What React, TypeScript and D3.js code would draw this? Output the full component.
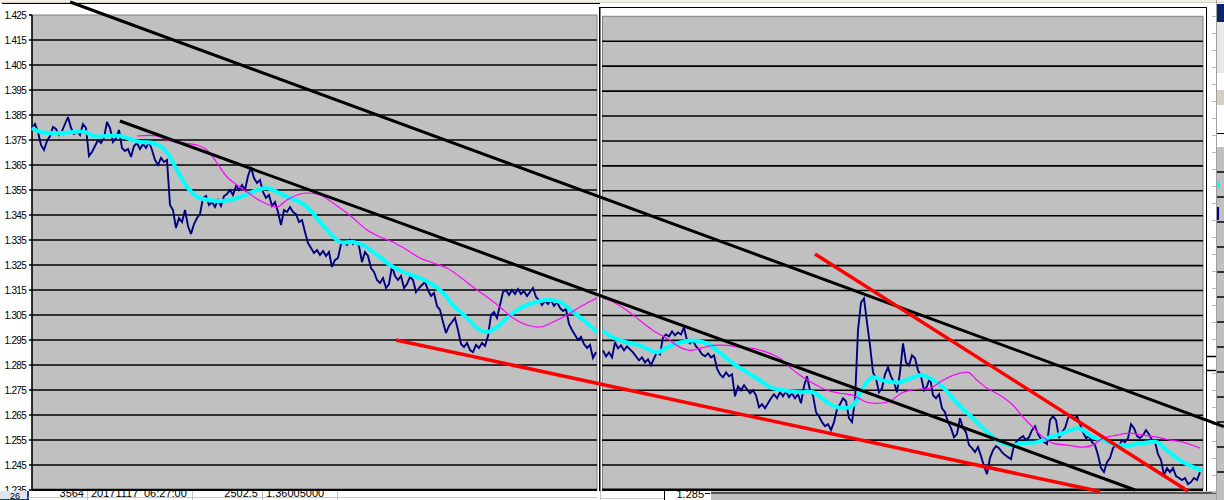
import React from 'react';
import * as d3 from 'd3';

// Y axis ticks (price)
const yTicks = [1.425, 1.415, 1.405, 1.395, 1.385, 1.375, 1.365, 1.355, 1.345, 1.335, 1.325, 1.315, 1.305, 1.295, 1.285, 1.275, 1.265, 1.255, 1.245, 1.235];
const tickLabels = yTicks.map((v) => v.toFixed(3));

// Left chart: price (bar index 0..188)
const leftPrice = [
  1.3798,1.3814,1.3782,1.373,1.371,1.3746,1.3766,1.3802,1.3794,1.377,
  1.3786,1.3814,1.3842,1.3798,1.3774,1.3786,1.377,1.3814,1.3798,1.3686,
  1.3702,1.3726,1.375,1.3738,1.3758,1.3822,1.3798,1.3742,1.3758,1.379,
  1.3718,1.3706,1.3714,1.3682,1.3726,1.3738,1.3714,1.3734,1.3718,1.3742,
  1.371,1.367,1.365,1.3678,1.3662,1.367,1.349,1.347,1.3398,1.3438,
  1.3422,1.347,1.3406,1.3374,1.3414,1.3438,1.3454,1.3518,1.3526,1.349,
  1.3502,1.3482,1.351,1.3486,1.3526,1.3534,1.355,1.353,1.3566,1.355,
  1.357,1.355,1.3606,1.3642,1.3598,1.3578,1.359,1.3542,1.3518,1.353,
  1.3486,1.3502,1.3462,1.341,1.347,1.3462,1.3482,1.3462,1.3454,1.3422,
  1.343,1.3382,1.3338,1.3318,1.3298,1.331,1.329,1.3306,1.3286,1.3302,
  1.3242,1.327,1.3278,1.3334,1.3342,1.333,1.335,1.3334,1.3346,1.3326,
  1.3262,1.3302,1.3286,1.3238,1.3222,1.319,1.3178,1.3198,1.3158,1.3174,
  1.3246,1.3206,1.319,1.3206,1.3158,1.3174,1.3202,1.319,1.3142,1.3158,
  1.317,1.3182,1.315,1.3126,1.3138,1.3086,1.307,1.3022,1.2978,1.3006,
  1.3022,1.3038,1.299,1.2934,1.2922,1.2938,1.291,1.2902,1.293,1.2918,
  1.2938,1.2926,1.2966,1.305,1.3062,1.3038,1.309,1.3142,1.315,1.313,
  1.315,1.3134,1.3154,1.3134,1.3146,1.3126,1.3142,1.3158,1.3122,1.311,
  1.309,1.3106,1.3094,1.311,1.3086,1.3102,1.3078,1.3066,1.3074,1.3014,
  1.299,1.297,1.295,1.2962,1.2934,1.2918,1.293,1.2878,1.2902,
];

// Right chart: price (bar index 0..199)
const rightPrice = [
  1.291,1.2886,1.2902,1.2882,1.2942,1.2918,1.293,1.291,1.2926,1.2914,
  1.2902,1.2886,1.287,1.2882,1.2862,1.2874,1.285,1.2878,1.2902,1.2894,
  1.2962,1.2974,1.2966,1.2986,1.297,1.2982,1.2974,1.3002,1.295,1.2938,
  1.295,1.2926,1.2914,1.2894,1.2886,1.2898,1.2882,1.289,1.2838,1.2814,
  1.2802,1.2822,1.2806,1.2814,1.2726,1.2766,1.275,1.277,1.2754,1.2738,
  1.275,1.273,1.2682,1.2694,1.2678,1.2698,1.2718,1.2734,1.2718,1.2742,
  1.2726,1.2746,1.2722,1.2738,1.2718,1.2734,1.2698,1.2766,1.2806,1.275,
  1.273,1.2662,1.2646,1.2622,1.2606,1.2614,1.259,1.2622,1.2674,1.2694,
  1.2718,1.2706,1.2638,1.2622,1.271,1.299,1.3102,1.3118,1.3022,1.293,
  1.2822,1.2798,1.2742,1.2758,1.2814,1.2842,1.2806,1.2782,1.2742,1.2822,
  1.2938,1.2862,1.285,1.289,1.2878,1.283,1.2806,1.275,1.2766,1.2802,
  1.273,1.2718,1.2734,1.2678,1.2662,1.2622,1.2598,1.2562,1.2574,1.2638,
  1.2598,1.2582,1.253,1.2518,1.2502,1.2522,1.2486,1.2446,1.2414,1.2478,
  1.251,1.2526,1.2518,1.2502,1.249,1.2482,1.2474,1.253,1.2546,1.2558,
  1.2566,1.255,1.2562,1.259,1.2606,1.2574,1.2554,1.2542,1.2534,1.263,
  1.2646,1.263,1.2558,1.2582,1.2598,1.2638,1.265,1.2634,1.2646,1.2614,
  1.2582,1.2558,1.2566,1.2542,1.253,1.249,1.2438,1.2422,1.2462,1.2478,
  1.2518,1.2534,1.2526,1.255,1.2542,1.2558,1.2614,1.2598,1.2566,1.2558,
  1.257,1.259,1.2574,1.255,1.2542,1.2494,1.247,1.241,1.2438,1.2422,
  1.2438,1.2406,1.2398,1.239,1.2398,1.2374,1.2382,1.2398,1.239,1.2422,
];

// Fast moving average (cyan) [bar index, price]
const leftFast: [number, number][] = [
  [0,1.3798],[2.7,1.3782],[6,1.3778],[10.3,1.3778],[13.7,1.3782],[17.7,1.3782],[20.3,1.3766],[25,1.3766],
  [29.3,1.3766],[32.7,1.3754],[36,1.3742],[40.3,1.3738],[43.7,1.3718],[46,1.3682],[48.3,1.363],[51.7,1.3562],
  [55,1.3522],[57,1.3514],[61.7,1.3506],[66,1.351],[70.3,1.3526],[75,1.355],[78.3,1.3558],[81.7,1.3542],
  [86,1.3518],[89.3,1.3502],[92.7,1.347],[96,1.3422],[99.3,1.3378],[102.7,1.3342],[107,1.3342],[110.3,1.333],
  [115,1.329],[119.3,1.325],[123.7,1.3222],[129.3,1.3198],[133.7,1.317],[137,1.3138],[140.3,1.309],[145,1.3038],
  [149.3,1.299],[151.7,1.2982],[155,1.3002],[158.3,1.3038],[162.7,1.3078],[167,1.3098],[171.7,1.311],[176,1.3102],
  [180.3,1.3062],[185,1.3018],[188.3,1.2982],
];
const rightFast: [number, number][] = [
  [0,1.299],[3.3,1.2962],[8,1.2942],[12.3,1.293],[18,1.2902],[21.3,1.2922],[25.7,1.2942],[30,1.295],
  [34.7,1.2938],[38,1.291],[43.3,1.2858],[48,1.2822],[52.3,1.279],[55.7,1.2762],[60,1.275],[65.7,1.2742],
  [70,1.2742],[74.7,1.2702],[78,1.2682],[82.3,1.2682],[84,1.2698],[86.7,1.2762],[89.7,1.2802],[93.3,1.279],
  [96.7,1.2782],[99,1.2782],[102.3,1.2798],[105.7,1.281],[109,1.2798],[113.3,1.2762],[118,1.2698],[122.3,1.265],
  [126.7,1.2598],[131.3,1.255],[135.7,1.253],[140,1.2538],[144.7,1.2542],[149,1.2562],[153.3,1.2578],[158,1.2598],
  [160,1.259],[163.3,1.2562],[166.7,1.255],[171.3,1.253],[175.7,1.253],[180,1.2538],[184.7,1.2542],[186.7,1.2522],
  [190,1.249],[193.3,1.2462],[196.7,1.2442],[199.7,1.243],
];

// Slow moving average (magenta) [bar index, price]
const leftSlow: [number, number][] = [
  [35,1.3766],[41.7,1.3766],[46,1.3746],[50.3,1.3738],[55,1.373],[58.3,1.371],[61.7,1.3658],[65,1.3602],
  [68.3,1.357],[71.7,1.3542],[75,1.3514],[78.3,1.3494],[81.7,1.3482],[85,1.351],[88.3,1.353],[91.7,1.3538],
  [96,1.353],[102.7,1.3478],[107,1.3438],[111.7,1.339],[116,1.3362],[120.3,1.3342],[125,1.331],[129.3,1.3278],
  [133.7,1.3258],[138.3,1.3238],[142.7,1.3202],[147,1.3162],[151.7,1.3122],[156,1.3082],[160.3,1.3038],[165,1.301],
  [169.3,1.3002],[173.7,1.3022],[178.3,1.305],[182.7,1.3082],[187,1.311],[188.3,1.3118],
];
const rightSlow: [number, number][] = [
  [0,1.3118],[2.3,1.311],[8,1.307],[12.3,1.303],[16.7,1.299],[21.3,1.2958],[25.7,1.2922],[29,1.291],
  [32.3,1.2918],[36.7,1.293],[41.3,1.293],[45.7,1.2922],[50,1.2918],[54.7,1.2902],[59,1.2878],[62.3,1.2842],
  [65.7,1.281],[70,1.2778],[74.7,1.275],[79,1.2738],[83.3,1.273],[88,1.2702],[92.3,1.2698],[95.7,1.2706],
  [100,1.2742],[104.7,1.2754],[109,1.2758],[113.3,1.279],[116.7,1.281],[121.7,1.2822],[124.7,1.279],[128,1.2758],
  [132.3,1.273],[136.7,1.269],[140,1.2642],[143.3,1.2602],[146.7,1.2562],[150,1.2538],[154.7,1.253],[160,1.2522],
  [163.3,1.253],[166.7,1.2558],[171.3,1.257],[175.7,1.2578],[180,1.257],[184.7,1.2562],[189,1.255],[193.3,1.2542],
  [199,1.2518],
];

// Hand-drawn trend lines, in left-chart bar index / price units
const blackTrends: [number, number][][] = [
  [[12.7, 1.4302], [397.3, 1.2604]],
  [[29.3, 1.3826], [367.7, 1.235]],
];
const redTrends: [number, number][][] = [
  [[121.3, 1.295], [356, 1.2344]],
  [[261, 1.3294], [385.3, 1.2346]],
];

// Spreadsheet cells peeking below the charts
const rowCells = ['3564', '20171117', '06:27:00', '2502.5', '1.36005000'];

const FONT = 'Arial, "Liberation Sans", sans-serif';

export default function App() {
  const W = 1224;
  const H = 500;

  const xL = d3.scaleLinear().domain([0, 188]).range([32, 596]);
  const yL = d3.scaleLinear().domain([1.235, 1.425]).range([490, 15]);
  const xR = d3.scaleLinear().domain([0, 199]).range([603, 1200]);
  const yR = d3.scaleLinear().domain([1.235, 1.425]).range([490, 16.3]);

  const priceLine = (xs: any, ys: any) =>
    d3.line<number>().x((_, i) => xs(i)).y((d) => ys(d));
  const maLine = (xs: any, ys: any) =>
    d3.line<[number, number]>().x((d) => xs(d[0])).y((d) => ys(d[1])).curve(d3.curveCatmullRom.alpha(0.5));
  const segLine = d3.line<[number, number]>().x((d) => xL(d[0])).y((d) => yL(d[1]));

  const sheetRows = d3.range(16, 500, 17);
  const stripGrid = d3.range(172, 490, 25);

  return (
    <svg
      width={W}
      height={H}
      style={{ position: 'absolute', left: 0, top: 0, display: 'block', background: '#fff' }}
      xmlns="http://www.w3.org/2000/svg"
    >
      <defs>
        <clipPath id="clipL"><rect x={0} y={3} width={600} height={488} /></clipPath>
        <clipPath id="clipR"><rect x={599} y={7} width={609} height={484} /></clipPath>
      </defs>

      {/* page background / sheet */}
      <rect x={0} y={0} width={W} height={H} fill="#ffffff" />
      <rect x={0} y={0} width={W} height={3} fill="#f1efe8" />
      <line x1={0} x2={W} y1={2.5} y2={2.5} stroke="#d4d0c8" />

      {/* bottom spreadsheet row */}
      <g fontFamily={FONT} fontSize={11} fill="#000">
        <rect x={0} y={491} width={28} height={9} fill="#dfe3ee" />
        <line x1={28} x2={28} y1={491} y2={500} stroke="#1c3c8c" strokeWidth={2} />
        <line x1={0} x2={28} y1={499.5} y2={499.5} stroke="#1c3c8c" />
        <text x={15} y={498.5} textAnchor="middle" fontSize={9}>26</text>
        {[87.5, 192.5, 262.5, 337.5].map((x) => (
          <line key={x} x1={x} x2={x} y1={491} y2={500} stroke="#c0c0c0" />
        ))}
        <line x1={28} x2={598} y1={497.5} y2={497.5} stroke="#c8c8c8" />
        <text x={84} y={497} textAnchor="end">{rowCells[0]}</text>
        <text x={91} y={497}>{rowCells[1]}</text>
        <text x={144} y={497}>{rowCells[2]}</text>
        <text x={258} y={497} textAnchor="end">{rowCells[3]}</text>
        <text x={266} y={497}>{rowCells[4]}</text>
      </g>

      {/* ========== LEFT CHART ========== */}
      <g clipPath="url(#clipL)">
        <rect x={2} y={3} width={598} height={488} fill="#ffffff" />
        <line x1={2} x2={600} y1={3.5} y2={3.5} stroke="#000" />
        <rect x={xL.range()[0]} y={yL(1.425)} width={597 - 32} height={yL(1.235) - yL(1.425)} fill="#c0c0c0" />
        <line x1={597} x2={597} y1={yL(1.425)} y2={yL(1.235)} stroke="#808080" />
        <line x1={32} x2={597} y1={yL(1.425)} y2={yL(1.425)} stroke="#808080" />
        {yTicks.map((t, i) => (
          <g key={t}>
            {i > 0 && i < yTicks.length - 1 && (
              <line x1={29} x2={597} y1={yL(t)} y2={yL(t)} stroke="#000" strokeWidth={1.6} />
            )}
            {(i === 0 || i === yTicks.length - 1) && (
              <line x1={29} x2={32} y1={yL(t)} y2={yL(t)} stroke="#000" strokeWidth={1.6} />
            )}
            <text
              x={26}
              y={yL(t) + 3.6}
              textAnchor="end"
              fontFamily={FONT}
              fontSize={10}
              letterSpacing={-0.7}
              fill="#000"
            >
              {tickLabels[i]}
            </text>
          </g>
        ))}
        <line x1={32} x2={32} y1={yL(1.425)} y2={yL(1.235)} stroke="#000" strokeWidth={1.6} />
        <line x1={32} x2={597} y1={yL(1.235)} y2={yL(1.235)} stroke="#000" strokeWidth={2.6} />

        <path d={priceLine(xL, yL)(leftPrice) || ''} fill="none" stroke="#000080" strokeWidth={1.9} strokeLinejoin="miter" strokeMiterlimit={3} />
        <path d={maLine(xL, yL)(leftFast) || ''} fill="none" stroke="#00ffff" strokeWidth={4} />
        <path d={maLine(xL, yL)(leftSlow) || ''} fill="none" stroke="#ff00ff" strokeWidth={1.2} />
      </g>

      {/* ========== RIGHT CHART ========== */}
      <g clipPath="url(#clipR)">
        <rect x={599} y={7} width={609} height={484} fill="#ffffff" />
        <line x1={599} x2={1207} y1={7.5} y2={7.5} stroke="#000" />
        <line x1={599.5} x2={599.5} y1={7} y2={491} stroke="#000" strokeWidth={2} />
        <line x1={1206.5} x2={1206.5} y1={7} y2={491} stroke="#000" />
        <rect x={602} y={yR(1.425)} width={1203 - 602} height={yR(1.235) - yR(1.425)} fill="#c0c0c0" />
        <line x1={602.5} x2={602.5} y1={yR(1.425)} y2={yR(1.235)} stroke="#808080" />
        <line x1={602} x2={1203} y1={yR(1.425)} y2={yR(1.425)} stroke="#808080" />
        <line x1={1203} x2={1203} y1={yR(1.425)} y2={yR(1.235)} stroke="#808080" />
        {yTicks.slice(1, -1).map((t) => (
          <line key={t} x1={602} x2={1203} y1={yR(t)} y2={yR(t)} stroke="#000" strokeWidth={1.6} />
        ))}
        <line x1={602} x2={1203} y1={yR(1.235)} y2={yR(1.235)} stroke="#000" strokeWidth={2.8} />

        <path d={priceLine(xR, yR)(rightPrice) || ''} fill="none" stroke="#000080" strokeWidth={1.9} strokeMiterlimit={3} />
        <path d={maLine(xR, yR)(rightFast) || ''} fill="none" stroke="#00ffff" strokeWidth={4} />
        <path d={maLine(xR, yR)(rightSlow) || ''} fill="none" stroke="#ff00ff" strokeWidth={1.2} />
      </g>

      {/* under right chart */}
      <g fontFamily={FONT} fontSize={11}>
        <line x1={600.5} x2={600.5} y1={491} y2={500} stroke="#c8c8c8" />
        <line x1={600} x2={664} y1={498.5} y2={498.5} stroke="#c8c8c8" />
        <rect x={664} y={491} width={47} height={9} fill="#fff" />
        <line x1={664.5} x2={664.5} y1={491} y2={500} stroke="#000" />
        <text x={704} y={498} textAnchor="end" fill="#000">1.285</text>
        <line x1={705} x2={710} y1={493.5} y2={493.5} stroke="#000" />
        <rect x={711} y={491} width={513} height={9} fill="#c0c0c0" />
        <line x1={711} x2={1221} y1={493} y2={493} stroke="#303030" strokeWidth={1.5} />
      </g>

      {/* right strip (another window) */}
      <g>
        <rect x={1208} y={7} width={8} height={484} fill="#fff" />
        {sheetRows.map((y) => (
          <line key={y} x1={1212} x2={1216} y1={y + 0.5} y2={y + 0.5} stroke="#b8b8b8" />
        ))}
        <line x1={1207} x2={1216} y1={356.5} y2={356.5} stroke="#000" strokeWidth={1.5} />
        <line x1={1207} x2={1216} y1={370.5} y2={370.5} stroke="#000" strokeWidth={1.5} />
        <line x1={1216.5} x2={1216.5} y1={0} y2={500} stroke="#a0a0a0" />
        <rect x={1217} y={4} width={7} height={18} fill="#0a246a" />
        <rect x={1217} y={22} width={7} height={51} fill="#e8e8e8" />
        <rect x={1217} y={90} width={7} height={15} fill="#d4d0c8" />
        <line x1={1217} x2={1224} y1={133.5} y2={133.5} stroke="#000" />
        <rect x={1217} y={147} width={7} height={353} fill="#c0c0c0" />
        {stripGrid.map((y) => (
          <line key={y} x1={1217} x2={1224} y1={y} y2={y} stroke="#000" strokeWidth={1.5} />
        ))}
        <rect x={1217} y={181} width={3} height={7} fill="#00ffff" />
        <rect x={1217} y={207} width={2} height={13} fill="#000080" />
      </g>

      {/* trend lines drawn over the sheet */}
      {blackTrends.map((seg, i) => (
        <path key={'b' + i} d={segLine(seg) || ''} stroke="#000" strokeWidth={3} fill="none" />
      ))}
      {redTrends.map((seg, i) => (
        <path key={'r' + i} d={segLine(seg) || ''} stroke="#ff0000" strokeWidth={3.5} fill="none" />
      ))}
    </svg>
  );
}
